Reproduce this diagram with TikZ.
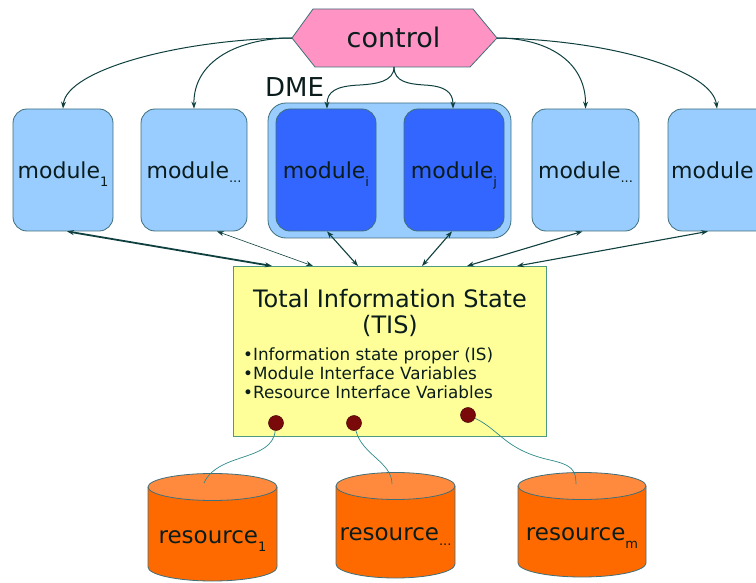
\documentclass[tikz,border=0pt]{standalone}
\usepackage{fontspec}
\setmainfont{DejaVu Sans}
\usetikzlibrary{arrows.meta}

\definecolor{modlight}{HTML}{99CCFF}
\definecolor{moddark}{HTML}{3366FF}
\definecolor{edge}{HTML}{3F6F7A}
\definecolor{ctlpink}{HTML}{FF94C4}
\definecolor{tisyellow}{HTML}{FFFF99}
\definecolor{tisedge}{HTML}{4E9A80}
\definecolor{resbody}{HTML}{FF6A00}
\definecolor{restop}{HTML}{FF8A3D}
\definecolor{dotred}{HTML}{7A0A0A}
\definecolor{wire}{HTML}{0F3F3F}
\definecolor{thinwire}{HTML}{2E8A8A}
\definecolor{ink}{HTML}{0A1C1C}

% lowered subscript that does not change the line box
\newcommand{\lowsub}[2][8pt]{\raisebox{-#1}[0pt][0pt]{\fontsize{13}{13}\selectfont #2}}

\begin{document}
\begin{tikzpicture}[x=1pt,y=-1pt,
  modbox/.style={draw=edge, line width=0.8pt, rounded corners=14pt,
    minimum width=100pt, minimum height=122pt, inner sep=0pt,
    text=ink, font=\fontsize{22}{22}\selectfont},
  modlightbox/.style={modbox, fill=modlight},
  moddarkbox/.style={modbox, fill=moddark},
  ctlarrow/.style={draw=wire, line width=1pt, -{Stealth[length=7pt,width=5pt]}},
  bothway/.style={draw=wire, line width=1.1pt,
    {Stealth[length=7pt,width=5pt]}-{Stealth[length=7pt,width=5pt]}},
  reswire/.style={draw=thinwire, line width=0.7pt},
  knob/.style={circle, fill=dotred, draw=dotred!60!black, line width=0.5pt,
    minimum size=15pt, inner sep=0pt},
  restext/.style={anchor=base, text=ink, font=\fontsize{23}{23}\selectfont, inner sep=0pt}
]
\useasboundingbox (0,0) rectangle (756,583);
\clip (0,0) rectangle (756,583);

% ---- control hexagon ----
\draw[draw=edge, fill=ctlpink, line width=0.8pt]
  (292,38) -- (313,9) -- (473,9) -- (497,38) -- (470,67) -- (315,67) -- cycle;
\node[anchor=base, text=ink, font=\fontsize{27}{27}\selectfont, inner sep=0pt]
  (ctl) at (393.5,48) {control};
\coordinate (ctlW) at (292,38);
\coordinate (ctlE) at (497,38);
\coordinate (ctlS) at (394,67);

% ---- DME group ----
\node[draw=edge, fill=modlight, line width=0.8pt, rounded corners=18pt,
  minimum width=243pt, minimum height=135pt] (dme) at (389.5,170.5) {};
\node[anchor=base west, text=ink, font=\fontsize{26}{26}\selectfont, inner sep=0pt]
  (dmelabel) at (265,97) {DME};

% ---- modules ----
\node[modlightbox] (m1) at (63,170) {module\lowsub{1}};
\node[modlightbox, minimum width=106pt] (m2) at (194,170) {module\lowsub[4pt]{...}};
\node[moddarkbox] (mi) at (326,170) {module\lowsub{i}};
\node[moddarkbox] (mj) at (454,170) {module\lowsub{j}};
\node[modlightbox, minimum width=107pt] (m5) at (585.5,170) {module\lowsub[4pt]{...}};
\node[modlightbox, minimum width=130pt] (m6) at (733,170) {};
\node[anchor=base west, text=ink, font=\fontsize{22}{22}\selectfont, inner sep=0pt]
  (m6label) at (671,179) {module};

% ---- control arrows ----
\draw[ctlarrow] (ctlW) .. controls (180,39) and (66,70) .. (m1.north);
\draw[ctlarrow] (ctlW) .. controls (240,38) and (193,60) .. (m2.north);
\draw[ctlarrow] (ctlE) .. controls (545,38) and (586,60) .. (m5.north);
\draw[ctlarrow] (ctlE) .. controls (610,40) and (712,70) .. ([xshift=-16pt]m6.north);
\coordinate (split1) at (360,85);
\coordinate (split2) at (424,85);
\draw[ctlarrow] (ctlS) .. controls (394,82) and (375,84) .. (split1)
  .. controls (335,86) and ([xshift=1pt]mi.north |- 0,92) .. ([xshift=1pt]mi.north);
\draw[ctlarrow] (ctlS) .. controls (394,82) and (409,84) .. (split2)
  .. controls (445,86) and ([xshift=-1pt]mj.north |- 0,92) .. ([xshift=-1pt]mj.north);

% ---- total information state ----
\node[draw=tisedge, fill=tisyellow, line width=0.8pt,
  minimum width=313pt, minimum height=170pt] (tis) at (389.5,351) {};
\node[anchor=base, text=ink, font=\fontsize{24}{24}\selectfont, inner sep=0pt]
  (tistitle) at (390,308) {Total Information State};
\node[anchor=base, text=ink, font=\fontsize{24}{24}\selectfont, inner sep=0pt]
  (tisabbr) at (390,333) {(TIS)};
\node[anchor=base west, text=ink, font=\fontsize{16.8}{16.8}\selectfont, inner sep=0pt]
  (b1) at (243,360) {•Information state proper (IS)};
\node[anchor=base west, text=ink, font=\fontsize{16.8}{16.8}\selectfont, inner sep=0pt]
  (b2) at (243,379) {•Module Interface Variables};
\node[anchor=base west, text=ink, font=\fontsize{16.8}{16.8}\selectfont, inner sep=0pt]
  (b3) at (243,398) {•Resource Interface Variables};

% attachment points on the top edge of the state box
\coordinate (t1) at (272,266);
\coordinate (t2) at (313,266);
\coordinate (t3) at (358,266);
\coordinate (t4) at (422,266);
\coordinate (t5) at (467,266);
\coordinate (t6) at (517,266);

\draw[bothway, line width=1.8pt] ([xshift=4pt]m1.south) -- (t1);
\draw[bothway, line width=0.6pt] ([xshift=23pt]m2.south) -- (t2);
\draw[bothway] ([xshift=1pt]mi.south) -- (t3);
\draw[bothway] ([xshift=-2pt]mj.south) -- (t4);
\draw[bothway] ([xshift=-3pt]m5.south) -- (t5);
\draw[bothway] ([xshift=-25pt]m6.south) -- (t6);

% ---- resources ----
\foreach \cx/\rx/\yt/\yb/\nm in {212.5/64.5/487/567/1, 395.5/59.5/486/564/2, 582/64/486/563/3}{
  \fill[resbody] ({\cx-\rx},\yt) -- ({\cx-\rx},\yb)
    arc[start angle=180, end angle=360, x radius=\rx pt, y radius=14pt]
    -- ({\cx+\rx},\yt) -- cycle;
  \draw[edge, line width=0.8pt] ({\cx-\rx},\yt) -- ({\cx-\rx},\yb)
    arc[start angle=180, end angle=360, x radius=\rx pt, y radius=14pt]
    -- ({\cx+\rx},\yt);
  \draw[edge, fill=restop, line width=0.8pt] (\cx,\yt) ellipse [x radius=\rx pt, y radius=13.5pt];
}
\node[restext] (res1) at (212.5,543) {resource\lowsub{1}};
\node[restext] (res2) at (395.5,540) {resource\lowsub[5pt]{...}};
\node[restext] (res3) at (582,540) {resource\lowsub{m}};

\coordinate (r1top) at (204,483);
\coordinate (r2top) at (392,484);
\coordinate (r3top) at (576,484);

% ---- knobs and their wires ----
\node[knob] (d1) at (276,423) {};
\node[knob] (d2) at (354,423) {};
\node[knob] (d3) at (468,415) {};

\draw[reswire] (d1) .. controls (272,462) and (218,452) .. (r1top);
\draw[reswire] (d2) .. controls (362,455) and (392,462) .. (r2top);
\draw[reswire] (d3) .. controls (500,430) and (505,450) .. (550,460)
  .. controls (572,465) and (576,470) .. (r3top);
\end{tikzpicture}
\end{document}
